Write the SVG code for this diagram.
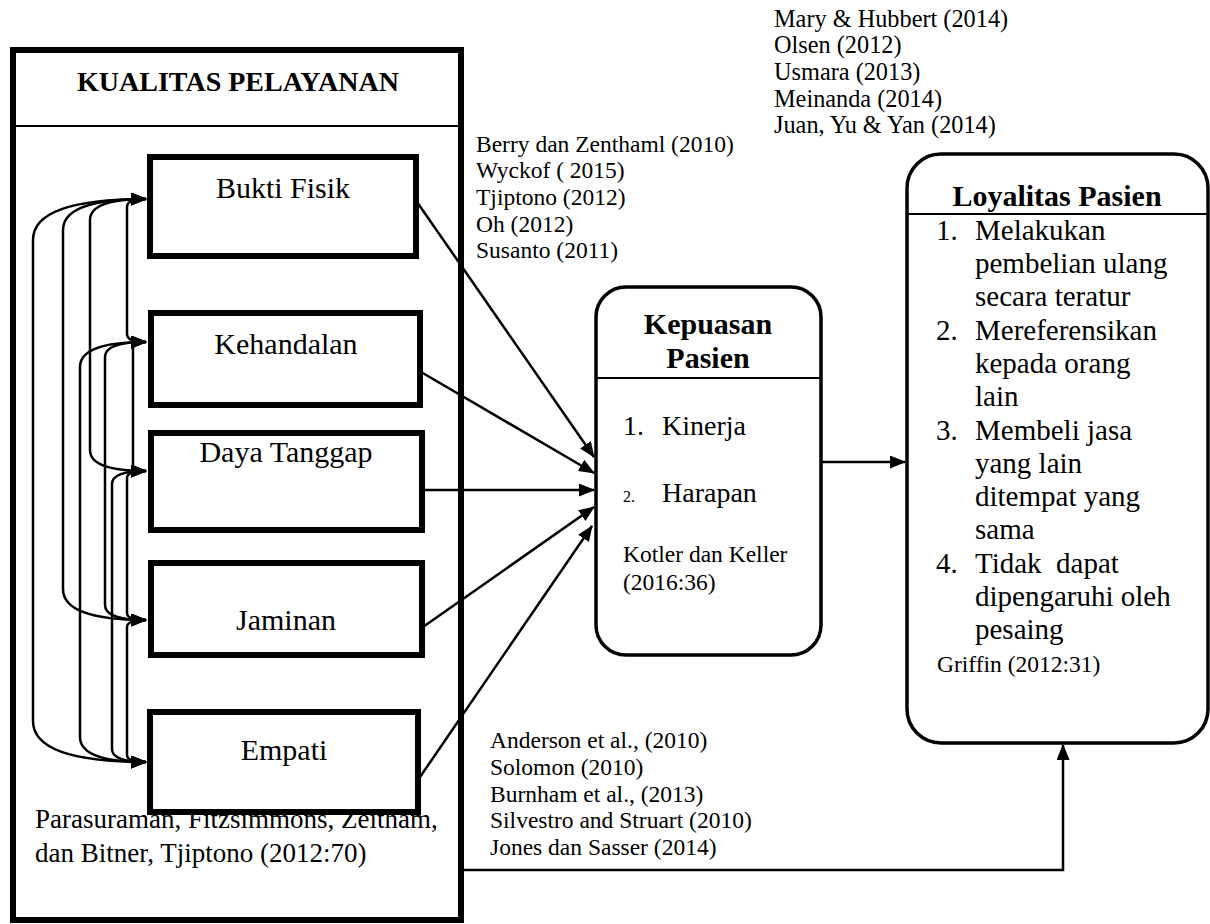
<svg xmlns="http://www.w3.org/2000/svg" width="1210" height="924" viewBox="0 0 1210 924">
<style>
text{font-family:"Liberation Serif","Times New Roman",serif;fill:#000}
.t{font-size:23.5px}
.lbl{font-size:30px;text-anchor:middle}
.hd{font-size:28px;font-weight:bold;text-anchor:middle}
.hd2{font-size:30px;font-weight:bold;text-anchor:middle}
.li{font-size:29px}
.sq{fill:#fff;stroke:#000;stroke-width:6}
.rd{fill:#fff;stroke:#000;stroke-width:3.5}
.dv{stroke:#000;stroke-width:2}
.c{fill:none;stroke:#000;stroke-width:2.5}
</style>
<defs>
<marker id="ah" markerUnits="userSpaceOnUse" markerWidth="16" markerHeight="13" refX="15" refY="6.5" orient="auto-start-reverse">
<path d="M0,0 L16,6.5 L0,13 z" fill="#000"/>
</marker>
</defs>
<rect width="1210" height="924" fill="#fff"/>

<g id="kualitas-pelayanan">
<rect class="sq" x="13" y="50" width="448" height="870"/>
<line class="dv" x1="13" y1="126" x2="461" y2="126"/>
<text class="hd" x="238" y="91">KUALITAS PELAYANAN</text>
<text x="35" y="828" style="font-size:27px">Parasuraman, Fitzsimmons, Zeitham,</text>
<text x="35" y="862" style="font-size:27px">dan Bitner, Tjiptono (2012:70)</text>
</g>

<g id="bukti-fisik">
<rect class="sq" x="150" y="157" width="266" height="99"/>
<text class="lbl" x="283" y="198">Bukti Fisik</text>
</g>
<g id="kehandalan">
<rect class="sq" x="151" y="313" width="269" height="92"/>
<text class="lbl" x="286" y="354">Kehandalan</text>
</g>
<g id="daya-tanggap">
<rect class="sq" x="151" y="433" width="271" height="97"/>
<text class="lbl" x="286" y="462">Daya Tanggap</text>
</g>
<g id="jaminan">
<rect class="sq" x="151" y="563" width="271" height="92"/>
<text class="lbl" x="286" y="630">Jaminan</text>
</g>
<g id="empati">
<rect class="sq" x="150" y="712" width="268" height="100"/>
<text class="lbl" x="284" y="760">Empati</text>
</g>

<g id="kepuasan-pasien">
<rect class="rd" x="596" y="287" width="225" height="368" rx="30" ry="30"/>
<line class="dv" x1="596" y1="378" x2="821" y2="378"/>
<text class="hd2" x="708" y="334">Kepuasan</text>
<text class="hd2" x="708" y="368">Pasien</text>
<text x="623" y="435" style="font-size:28px">1.</text>
<text x="662" y="435" style="font-size:28px">Kinerja</text>
<text x="623" y="502" style="font-size:16px">2.</text>
<text x="662" y="502" style="font-size:28px">Harapan</text>
<text class="t" x="623" y="562">Kotler dan Keller</text>
<text class="t" x="623" y="590">(2016:36)</text>
</g>

<g id="loyalitas-pasien">
<rect class="rd" x="907" y="154" width="301" height="589" rx="34" ry="34"/>
<line class="dv" x1="907" y1="214" x2="1208" y2="214"/>
<text class="hd2" x="1057" y="206">Loyalitas Pasien</text>
<text class="li" x="936" y="240">1.</text>
<text class="li" x="975" y="240">Melakukan</text>
<text class="li" x="975" y="273">pembelian ulang</text>
<text class="li" x="975" y="306">secara teratur</text>
<text class="li" x="936" y="340">2.</text>
<text class="li" x="975" y="340">Mereferensikan</text>
<text class="li" x="975" y="373">kepada orang</text>
<text class="li" x="975" y="406">lain</text>
<text class="li" x="936" y="440">3.</text>
<text class="li" x="975" y="440">Membeli jasa</text>
<text class="li" x="975" y="473">yang lain</text>
<text class="li" x="975" y="506">ditempat yang</text>
<text class="li" x="975" y="539">sama</text>
<text class="li" x="936" y="573">4.</text>
<text class="li" x="975" y="573" xml:space="preserve">Tidak  dapat</text>
<text class="li" x="975" y="606">dipengaruhi oleh</text>
<text class="li" x="975" y="639">pesaing</text>
<text class="t" x="937" y="672">Griffin (2012:31)</text>
</g>

<g id="citations">
<text class="t" x="476" y="152">Berry dan Zenthaml (2010)</text>
<text class="t" x="476" y="178">Wyckof ( 2015)</text>
<text class="t" x="476" y="205">Tjiptono (2012)</text>
<text class="t" x="476" y="232">Oh (2012)</text>
<text class="t" x="476" y="258">Susanto (2011)</text>
<text class="t" x="774" y="27" style="font-size:24.3px">Mary &amp; Hubbert (2014)</text>
<text class="t" x="774" y="53" style="font-size:24.3px">Olsen (2012)</text>
<text class="t" x="774" y="80" style="font-size:24.3px">Usmara (2013)</text>
<text class="t" x="774" y="107" style="font-size:24.3px">Meinanda (2014)</text>
<text class="t" x="774" y="133" style="font-size:24.3px">Juan, Yu &amp; Yan (2014)</text>
<text class="t" x="490" y="748">Anderson et al., (2010)</text>
<text class="t" x="490" y="775">Solomon (2010)</text>
<text class="t" x="490" y="802">Burnham et al., (2013)</text>
<text class="t" x="490" y="828">Silvestro and Struart (2010)</text>
<text class="t" x="490" y="855">Jones dan Sasser (2014)</text>
</g>

<g id="connectors">
<path class="c" marker-start="url(#ah)" marker-end="url(#ah)" d="M146,199 Q33,199 33,240 V721 Q33,762 146,762"/>
<path class="c" marker-start="url(#ah)" marker-end="url(#ah)" d="M146,199 Q63,199 63,230 V589 Q63,620 146,620"/>
<path class="c" marker-start="url(#ah)" marker-end="url(#ah)" d="M146,199 Q90,199 90,220 V450 Q90,471 146,471"/>
<path class="c" marker-start="url(#ah)" marker-end="url(#ah)" d="M146,199 Q127,199 127,207 V334 Q127,342 146,342"/>
<path class="c" marker-start="url(#ah)" marker-end="url(#ah)" d="M146,342 Q80,342 80,367 V737 Q80,762 146,762"/>
<path class="c" marker-start="url(#ah)" marker-end="url(#ah)" d="M146,342 Q105,342 105,357 V605 Q105,620 146,620"/>
<path class="c" marker-start="url(#ah)" marker-end="url(#ah)" d="M146,342 Q133,342 133,347 V466 Q133,471 146,471"/>
<path class="c" marker-start="url(#ah)" marker-end="url(#ah)" d="M146,471 Q112,471 112,484 V749 Q112,762 146,762"/>
<path class="c" marker-start="url(#ah)" marker-end="url(#ah)" d="M146,471 Q127,471 127,478 V613 Q127,620 146,620"/>
<path class="c" marker-start="url(#ah)" marker-end="url(#ah)" d="M146,620 Q127,620 127,627 V755 Q127,762 146,762"/>
<line class="c" x1="417" y1="202" x2="594" y2="457" marker-end="url(#ah)"/>
<line class="c" x1="421" y1="372" x2="594" y2="473" marker-end="url(#ah)"/>
<line class="c" x1="423" y1="490" x2="594" y2="490" marker-end="url(#ah)"/>
<line class="c" x1="423" y1="627" x2="594" y2="507" marker-end="url(#ah)"/>
<line class="c" x1="420" y1="777" x2="592" y2="526" marker-end="url(#ah)"/>
<line class="c" x1="821" y1="462" x2="905" y2="462" marker-end="url(#ah)"/>
<path class="c" marker-end="url(#ah)" d="M461,870 H1063 V745"/>
</g>
</svg>
